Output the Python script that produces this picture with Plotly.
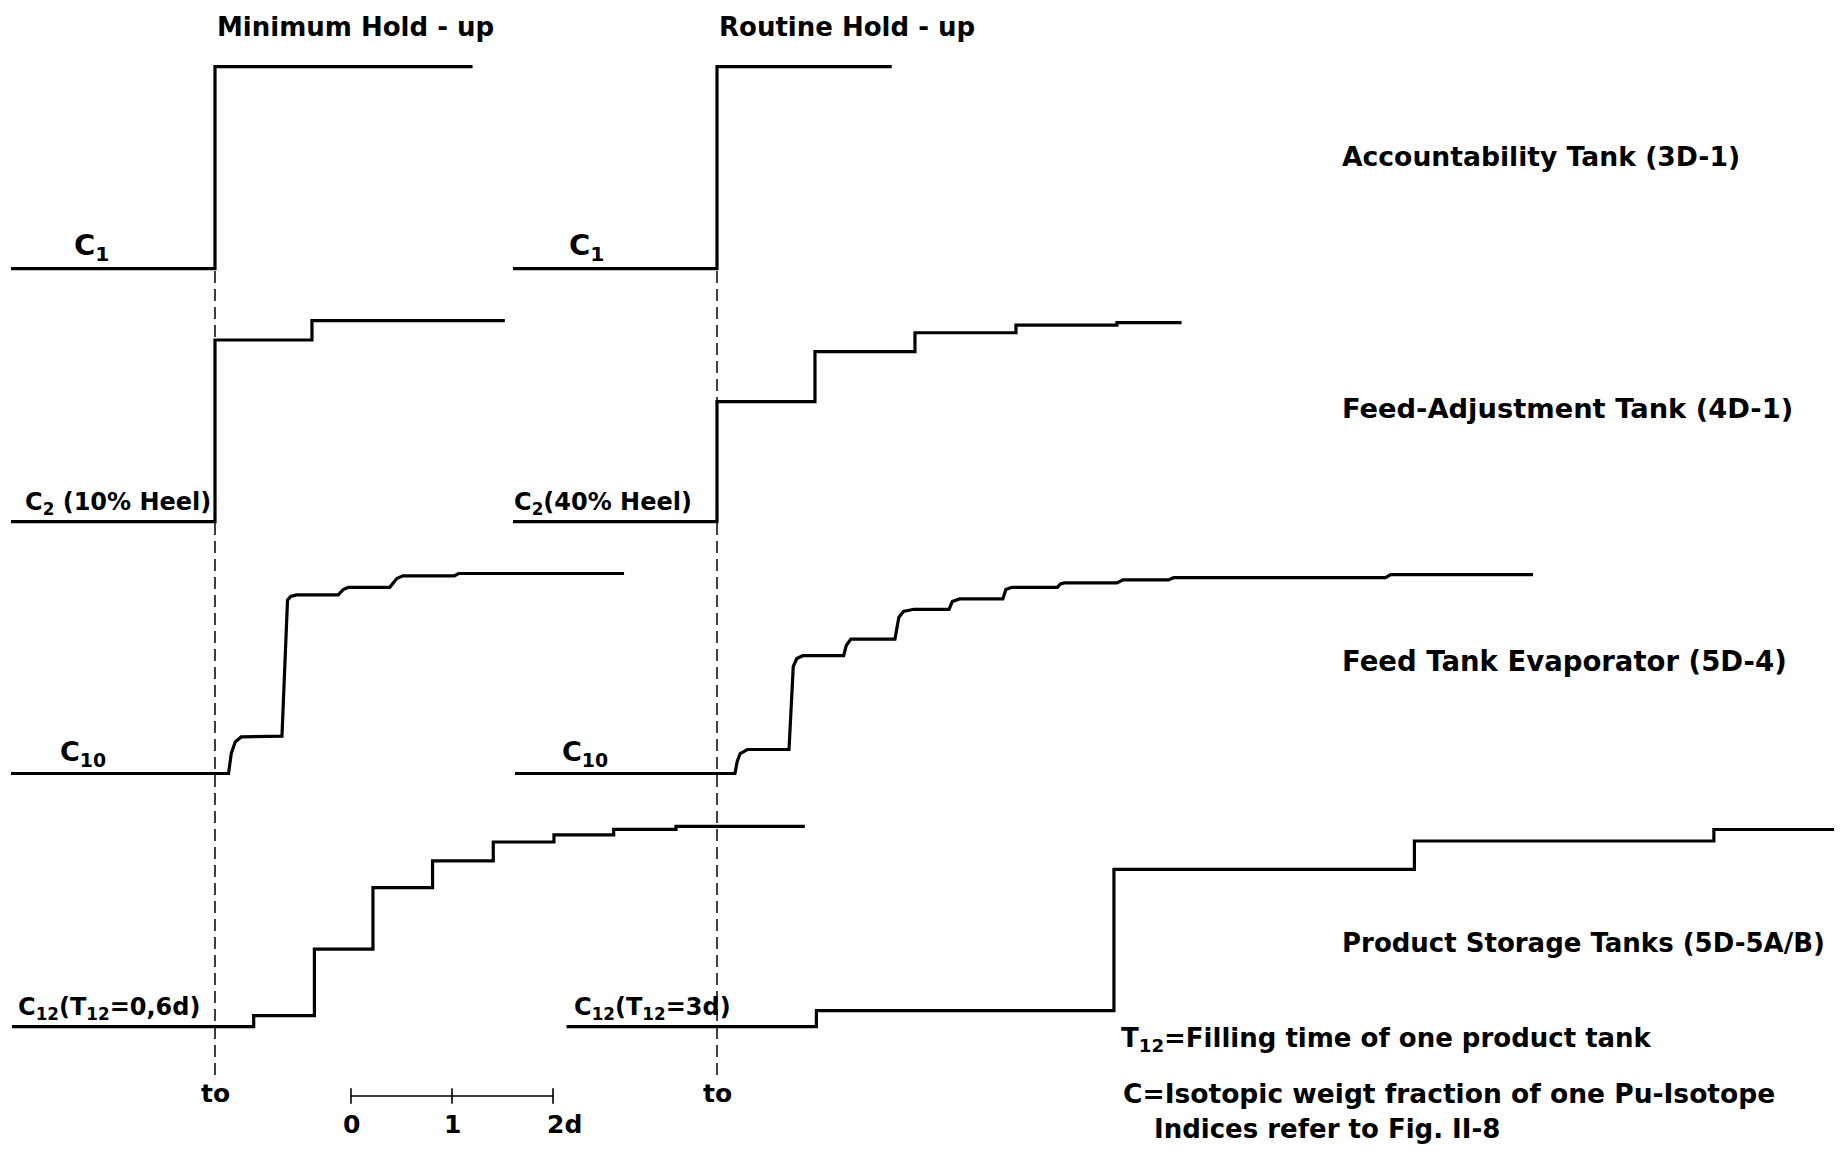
import plotly.graph_objects as go

# ---------------- data ----------------
# time in days after t0, level = fraction of the final concentration change
# Minimum hold-up (left panel)
MIN_C1_T = [-2.02, 0.0, 2.55]
MIN_C1_V = [0.0, 1.0, 1.0]
MIN_C2_T = [-2.02, 0.0, 0.96, 2.87]
MIN_C2_V = [0.0, 0.904, 1.0, 1.0]
MIN_C10_T = [-2.02, 0.134, 0.161, 0.20, 0.259, 0.663, 0.718, 0.749, 0.807,
             1.22, 1.27, 1.32, 1.73, 1.80, 1.86, 2.37, 2.41, 4.05]
MIN_C10_V = [0.0, 0.0, 0.10, 0.158, 0.183, 0.187, 0.867, 0.885, 0.893,
             0.893, 0.92, 0.931, 0.931, 0.975, 0.988, 0.988, 1.0, 1.0]
MIN_C12_T = [-2.01, 0.383, 0.984, 1.564, 2.154, 2.755, 3.356, 3.947, 4.564, 5.84]
MIN_C12_V = [0.0, 0.055, 0.386, 0.691, 0.824, 0.918, 0.953, 0.981, 0.996, 0.996]

# Routine hold-up (right panel)
ROU_C1_T = [-2.02, 0.0, 1.73]
ROU_C1_V = [0.0, 1.0, 1.0]
ROU_C2_T = [-2.02, 0.0, 0.97, 1.96, 2.96, 3.96, 4.60]
ROU_C2_V = [0.0, 0.597, 0.846, 0.940, 0.978, 0.990, 0.990]
ROU_C10_T = [-2.0, 0.178, 0.20, 0.23, 0.30, 0.713, 0.755, 0.79, 0.85,
             1.254, 1.28, 1.325, 1.762, 1.80, 1.846, 1.95, 2.297, 2.33, 2.40,
             2.83, 2.86, 2.92, 3.37, 3.40, 3.44, 3.96, 4.02, 4.47, 4.52,
             6.62, 6.67, 8.08]
ROU_C10_V = [0.0, 0.0, 0.06, 0.10, 0.12, 0.12, 0.535, 0.575, 0.589,
             0.589, 0.64, 0.672, 0.672, 0.78, 0.81, 0.821, 0.821, 0.86, 0.873,
             0.873, 0.92, 0.931, 0.931, 0.948, 0.953, 0.953, 0.968, 0.968, 0.979,
             0.979, 0.994, 0.994]
ROU_C12_T = [-1.49, 0.984, 3.93, 6.905, 9.87, 11.06]
ROU_C12_V = [0.0, 0.080, 0.782, 0.923, 0.98, 0.98]

PANEL_TITLES = ["Minimum Hold - up", "Routine Hold - up"]
TANK_NAMES = ["Accountability Tank (3D-1)", "Feed-Adjustment Tank (4D-1)",
              "Feed Tank Evaporator (5D-4)", "Product Storage Tanks (5D-5A/B)"]
MIN_LABELS = ["C<sub>1</sub>", "C<sub>2</sub> (10% Heel)", "C<sub>10</sub>",
              "C<sub>12</sub>(T<sub>12</sub>=0,6d)"]
ROU_LABELS = ["C<sub>1</sub>", "C<sub>2</sub>(40% Heel)", "C<sub>10</sub>",
              "C<sub>12</sub>(T<sub>12</sub>=3d)"]
SCALE_TICKS = [0, 1, 2]
SCALE_TEXT = ["0", "1", "2d"]
NOTES = ["T<sub>12</sub>=Filling time of one product tank",
         "C=Isotopic weigt fraction of one Pu-Isotope",
         "Indices refer to Fig. II-8"]

# ---------------- layout constants ----------------
WIN_W, WIN_H = 1847, 1154
OFF = 8                          # page body margin
W, H = WIN_W - 2 * OFF, WIN_H - 2 * OFF
FONT = "DejaVu Sans"
PPD = 101.0                      # pixels per day
T0_PX = [215.0, 717.0]           # t0 of left / right panel (window px)
ROW_BASE = [268.6, 521.7, 773.5, 1026.7]
ROW_TOP = [66.7, 320.7, 573.5, 825.5]
PAD = 0.2


def px(x):
    return (x - OFF) / W


def py(y):
    return 1 - (y - OFF) / H


fig = go.Figure()


def add_line(t, v, xa, ya, shape):
    fig.add_trace(go.Scatter(x=t, y=v, mode="lines", xaxis=xa, yaxis=ya,
                             line=dict(color="black", width=3.2, shape=shape),
                             showlegend=False, hoverinfo="skip"))


series = [
    (MIN_C1_T, MIN_C1_V, "x", "y", "hv"),
    (MIN_C2_T, MIN_C2_V, "x", "y2", "hv"),
    (MIN_C10_T, MIN_C10_V, "x", "y3", "linear"),
    (MIN_C12_T, MIN_C12_V, "x", "y4", "hv"),
    (ROU_C1_T, ROU_C1_V, "x2", "y", "hv"),
    (ROU_C2_T, ROU_C2_V, "x2", "y2", "hv"),
    (ROU_C10_T, ROU_C10_V, "x2", "y3", "linear"),
    (ROU_C12_T, ROU_C12_V, "x2", "y4", "hv"),
]
for s in series:
    add_line(*s)

# scale bar (own axis: 0..2 days)
fig.add_trace(go.Scatter(x=[SCALE_TICKS[0], SCALE_TICKS[-1]], y=[0, 0], mode="lines",
                         xaxis="x3", yaxis="y5", line=dict(color="black", width=1.6),
                         showlegend=False, hoverinfo="skip"))
fig.add_trace(go.Scatter(x=SCALE_TICKS, y=[0] * len(SCALE_TICKS), mode="markers",
                         xaxis="x3", yaxis="y5", cliponaxis=False,
                         marker=dict(symbol="line-ns-open", size=11, color="black",
                                     line=dict(color="black", width=1.6)),
                         showlegend=False, hoverinfo="skip"))

layout = dict(
    width=W, height=H, margin=dict(l=0, r=0, t=0, b=0),
    paper_bgcolor="white", plot_bgcolor="rgba(0,0,0,0)",
    font=dict(family=FONT, color="black"),
    showlegend=False,
)
hidden = dict(visible=False, showgrid=False, zeroline=False, fixedrange=True)
for i, t0 in enumerate(T0_PX):
    key = "xaxis" if i == 0 else "xaxis2"
    layout[key] = dict(hidden, domain=[0, 1],
                       range=[-(t0 - OFF) / PPD, (W - (t0 - OFF)) / PPD])
for i in range(4):
    span = ROW_BASE[i] - ROW_TOP[i]
    pad = PAD * span
    key = "yaxis" if i == 0 else f"yaxis{i + 1}"
    layout[key] = dict(hidden, range=[-PAD, 1 + PAD], anchor="x",
                       domain=[py(ROW_BASE[i] + pad), py(ROW_TOP[i] - pad)])
# scale bar axes
SB_X0, SB_Y = 351.0, 1096.0
layout["xaxis3"] = dict(hidden, anchor="y5", range=[-0.1, 2.1],
                        domain=[px(SB_X0 - 0.1 * PPD), px(SB_X0 + 2.1 * PPD)])
layout["yaxis5"] = dict(hidden, anchor="x3", range=[-1, 1],
                        domain=[py(SB_Y + 10), py(SB_Y - 10)])

shapes = []
for xr in ["x", "x2"]:
    shapes.append(dict(type="line", xref=xr, yref="paper", x0=0, x1=0,
                       y0=py(1075), y1=py(ROW_BASE[0]),
                       line=dict(color="black", width=1.5, dash="12px,6px")))
layout["shapes"] = shapes

ann = []
# panel titles
for xr, txt in zip(["x", "x2"], PANEL_TITLES):
    ann.append(dict(text="<b>" + txt + "</b>", xref=xr, yref="paper", x=0, y=py(27),
                    xanchor="left", yanchor="middle", showarrow=False,
                    font=dict(size=26)))
# curve labels
min_pos = [(-1.22, "center"), (-1.90, "left"), (-1.31, "center"), (-1.97, "left")]
rou_pos = [(-1.29, "center"), (-2.03, "left"), (-1.31, "center"), (-1.44, "left")]
LABEL_SIZE = [29, 24, 27, 24]
for i in range(4):
    ya = "y" if i == 0 else f"y{i + 1}"
    for xr, labels, pos in [("x", MIN_LABELS, min_pos), ("x2", ROU_LABELS, rou_pos)]:
        ann.append(dict(text="<b>" + labels[i] + "</b>", xref=xr, yref=ya,
                        x=pos[i][0], y=0, xanchor=pos[i][1], yanchor="bottom",
                        yshift=1, showarrow=False, font=dict(size=LABEL_SIZE[i])))
# tank names
TANK_Y = [156.6, 408.6, 660.7, 943.0]
TANK_SIZE = [26.6, 27.3, 27.5, 26.0]
for txt, yp, fs in zip(TANK_NAMES, TANK_Y, TANK_SIZE):
    ann.append(dict(text="<b>" + txt + "</b>", xref="paper", yref="paper",
                    x=px(1340), y=py(yp), xanchor="left", yanchor="middle",
                    showarrow=False, font=dict(size=fs)))
# t0 marks
for xr in ["x", "x2"]:
    ann.append(dict(text="<b>to</b>", xref=xr, yref="paper", x=0, y=py(1093),
                    xanchor="center", yanchor="middle", showarrow=False,
                    font=dict(size=25)))
# scale labels
SCALE_SHIFT = [0, 0, 11]
for tv, tt, sh in zip(SCALE_TICKS, SCALE_TEXT, SCALE_SHIFT):
    ann.append(dict(text="<b>" + tt + "</b>", xref="x3", yref="paper", x=tv,
                    y=py(1124), xanchor="center", yanchor="middle", showarrow=False,
                    xshift=sh, font=dict(size=25)))
# notes
NOTE_POS = [(1119, 1039, "middle", 26), (1121, 1093, "middle", 26.5),
            (1152, 1146, "bottom", 26)]
for txt, (xp, yp, ya, fs) in zip(NOTES, NOTE_POS):
    ann.append(dict(text="<b>" + txt + "</b>", xref="paper", yref="paper",
                    x=px(xp), y=py(yp), xanchor="left", yanchor=ya,
                    showarrow=False, font=dict(size=fs)))
layout["annotations"] = ann

fig.update_layout(**layout)
fig.write_html("out.html")
